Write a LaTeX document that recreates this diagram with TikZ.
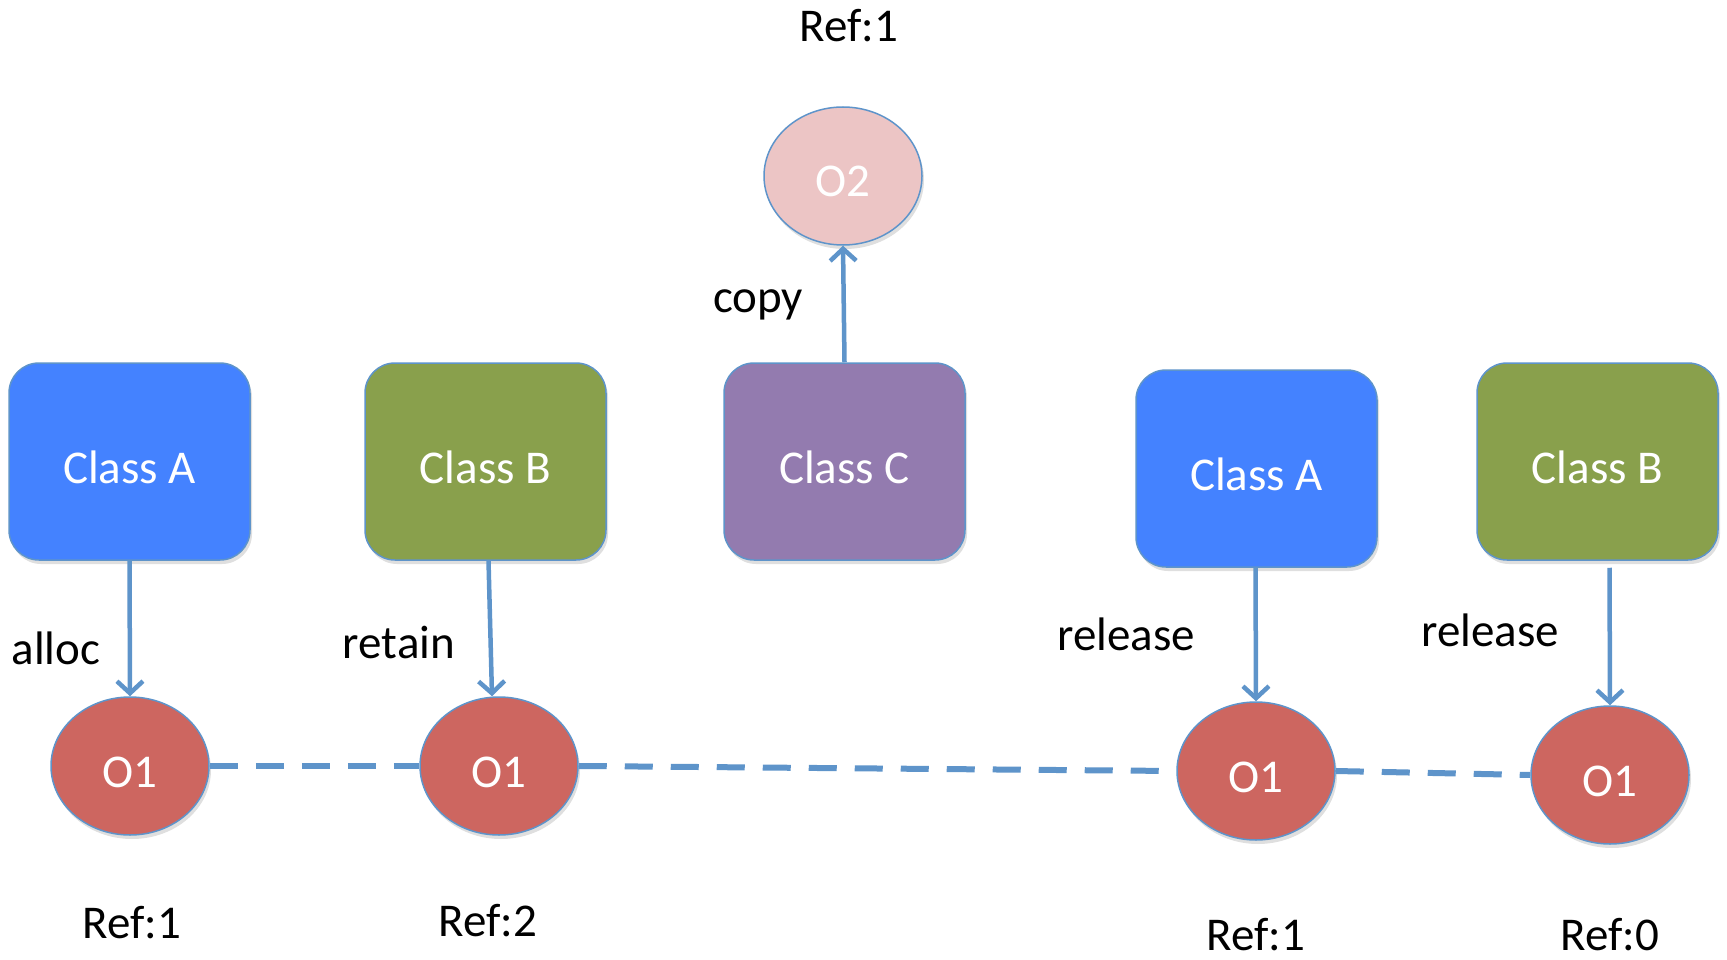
\documentclass[tikz,border=0pt]{standalone}
\usepackage{fontspec}
\setmainfont{Carlito}
\usetikzlibrary{shapes.geometric,arrows.meta,shadows,calc}
\definecolor{cblue}{RGB}{68,130,255}
\definecolor{cgreen}{RGB}{137,160,76}
\definecolor{cpurple}{RGB}{147,123,175}
\definecolor{cred}{RGB}{205,102,96}
\definecolor{cpink}{RGB}{236,197,197}
\definecolor{cline}{RGB}{94,148,202}
\tikzset{
  classbox/.style={rectangle, rounded corners=30pt, draw=cline, line width=1.5pt,
    minimum width=241pt, minimum height=197pt, text=white, inner sep=0pt,
    text height=43pt, text depth=0pt,
    font=\fontsize{47}{56}\selectfont,
    drop shadow={opacity=0.25, shadow xshift=2pt, shadow yshift=-4pt}},
  obj/.style={ellipse, draw=cline, line width=1.5pt, minimum width=158pt,
    minimum height=138pt, text=white, inner sep=0pt,
    text height=42pt, text depth=0pt,
    font=\fontsize{47}{56}\selectfont,
    drop shadow={opacity=0.25, shadow xshift=2pt, shadow yshift=-4pt}},
  lbl/.style={anchor=base, inner sep=0pt, text=black, font=\fontsize{47}{56}\selectfont},
  conn/.style={draw=cline, line width=4.5pt, -{Straight Barb[length=12pt,width=26pt,line width=4.5pt]}},
  link/.style={draw=cline, line width=6pt, dash pattern=on 28pt off 18pt}
}
\begin{document}
\begin{tikzpicture}[x=1pt,y=-1pt]
\useasboundingbox (0,0) rectangle (1727,960);
% boxes
\node[classbox, fill=cblue]   (a1) at (129.5,461.5) {Class A};
\node[classbox, fill=cgreen]  (b1) at (485.5,461.5) {Class B};
\node[classbox, fill=cpurple] (c1) at (844.5,461.5) {Class C};
\node[classbox, fill=cblue]   (a2) at (1256.5,468.5) {Class A};
\node[classbox, fill=cgreen]  (b2) at (1597.5,461.5) {Class B};
% objects
\node[obj, fill=cpink] (o2) at (843,176) {O2};
\node[obj, fill=cred] (o1a) at (130,766) {O1};
\node[obj, fill=cred] (o1b) at (499,766) {O1};
\node[obj, fill=cred] (o1c) at (1256,771) {O1};
\node[obj, fill=cred] (o1d) at (1610,775) {O1};
% labels
\node[lbl] (rtop) at (849,42) {Ref:1};
\node[lbl] (lcopy) at (758,312) {copy};
\node[lbl] (lalloc) at (56,664) {alloc};
\node[lbl] (lretain) at (399,658) {retain};
\node[lbl] (lrel1) at (1126,650) {release};
\node[lbl] (lrel2) at (1490,646) {release};
\node[lbl] (r1) at (132,938) {Ref:1};
\node[lbl] (r2) at (488,936) {Ref:2};
\node[lbl] (r3) at (1256,950) {Ref:1};
\node[lbl] (r4) at (1610,950) {Ref:0};
% dashed links
\draw[link] (o1a.east) -- (o1b.west);
\draw[link] (o1b.east) -- (o1c.west);
\draw[link] (o1c.east) -- (o1d.west);
% arrows
\draw[conn] (a1.south) -- (o1a.north);
\draw[conn] ($(b1.south)+(3,0)$) -- ($(o1b.north)+(-7,0)$);
\draw[conn] (c1.north) -- (o2.south);
\draw[conn] ($(a2.south)+(-1,0)$) -- (o1c.north);
\draw[conn] ($(b2.south)+(12,7)$) -- (o1d.north);
\end{tikzpicture}
\end{document}
